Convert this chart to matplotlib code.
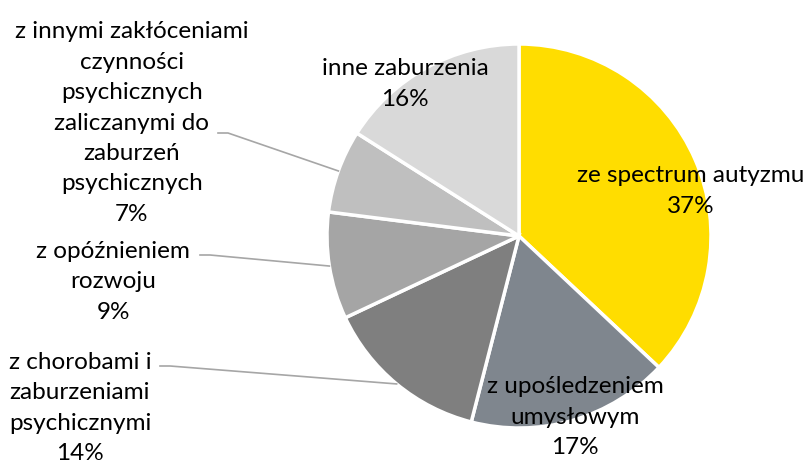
import numpy as np
import matplotlib.pyplot as plt

labels = ["ze spectrum autyzmu", "z upośledzeniem\numysłowym",
          "z chorobami i\nzaburzeniami\npsychicznymi",
          "z opóźnieniem\nrozwoju",
          "z innymi zakłóceniami\nczynności\npsychicznych\nzaliczanymi do\nzaburzeń\npsychicznych",
          "inne zaburzenia"]
values = [37, 17, 14, 9, 7, 16]
colors = ["#FFDD00", "#7F868E", "#7F7F7F", "#A5A5A5", "#BFBFBF", "#D9D9D9"]

W, H = 808, 463
cx, cy, R = 519, 236, 192

# pozycje etykiet (piksele) i czy jest linia odniesienia
label_pos = [(691, 191), (575, 417), (80, 408), (113, 282), (132, 123), (405, 84)]
leader = [None, None, (160, 366), (200, 255), (218, 133), None]

plt.rcParams['font.family'] = ['Lato', 'DejaVu Sans']
fig = plt.figure(figsize=(W / 100, H / 100), dpi=100)
ax = fig.add_axes([0, 0, 1, 1])
ax.set_xlim(0, W)
ax.set_ylim(0, H)
ax.set_aspect('equal')
ax.axis('off')

wedges, _ = ax.pie(values, colors=colors, startangle=90, counterclock=False,
                   center=(cx, H - cy), radius=R,
                   wedgeprops=dict(edgecolor='white', linewidth=2.5))
ax.set_xlim(0, W)
ax.set_ylim(0, H)

total = sum(values)
start = 0
for i, v in enumerate(values):
    mid = (start + v / 2) / total * 2 * np.pi
    start += v
    tx, ty = label_pos[i]
    ax.text(tx, H - ty, labels[i] + "\n" + f"{v}%", ha='center', va='center',
            fontsize=17.5, linespacing=1.55, color='black')
    if leader[i] is not None:
        px = cx + R * np.sin(mid)
        py = cy - R * np.cos(mid)
        lx, ly = leader[i]
        ax.plot([lx, lx + 10, px], [H - ly, H - ly, H - py], color='#A6A6A6', lw=1.2)

fig.savefig("out.png", dpi=100)
